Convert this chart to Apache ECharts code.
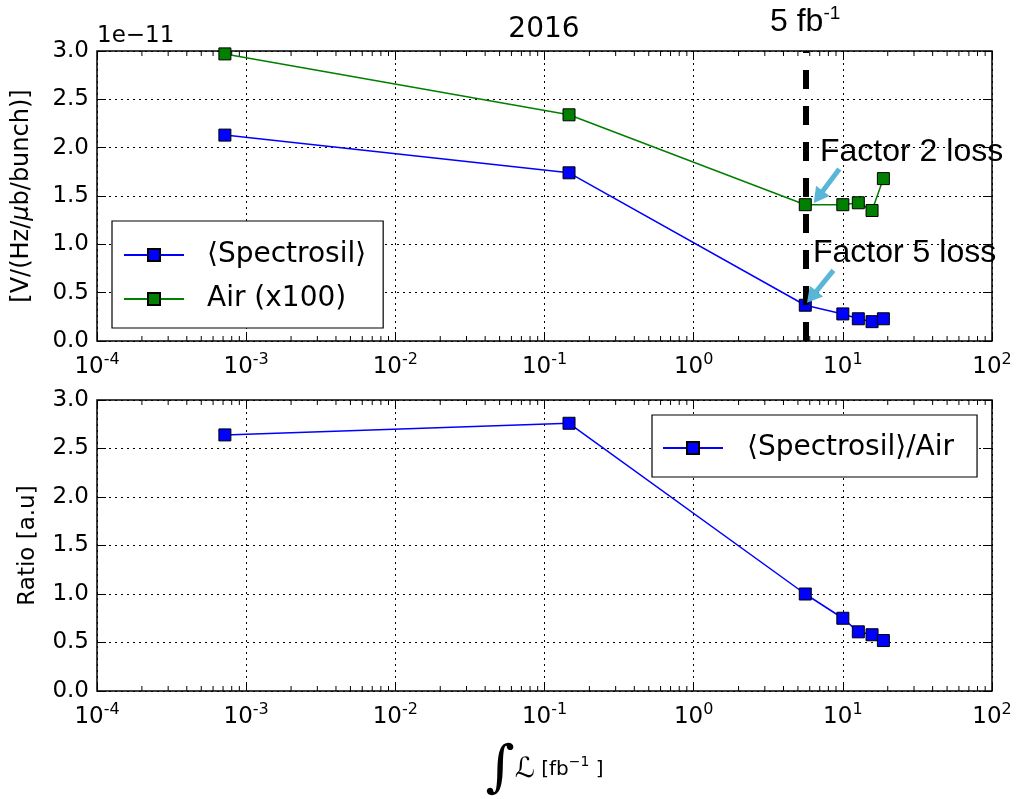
<!DOCTYPE html>
<html><head><meta charset="utf-8">
<script src="https://cdn.jsdelivr.net/npm/echarts@6/dist/echarts.min.js"></script>
<style>html,body{margin:0;padding:0;background:#fff}#c{width:1021px;height:799px}</style>
</head><body><div id="c"></div>
<script>
// ---- data ----
const lumi = [7.2e-4, 0.146, 5.6, 10, 12.7, 15.7, 18.7];          // integrated luminosity [fb^-1]
const spectrosil = [2.13, 1.74, 0.37, 0.28, 0.23, 0.20, 0.23];     // x 1e-11
const air = [2.97, 2.34, 1.41, 1.41, 1.43, 1.35, 1.68];            // x 1e-11 (x100)
const ratio = [2.64, 2.76, 1.00, 0.75, 0.61, 0.58, 0.52];
const decades = [-4, -3, -2, -1, 0, 1];
const minorMultipliers = [2, 3, 4, 5, 6, 7, 8, 9];
const markerLumi = 5.6;                       // "5 fb-1" dashed line
const arrowFactor2 = [[9.47, 1.78], [6.85, 1.49]];
const arrowFactor5 = [[8.64, 0.73], [6.19, 0.455]];
const names = {spec: '⟨Spectrosil⟩', air: 'Air (x100)', ratio: '⟨Spectrosil⟩/Air'};

const minorVals = [];
decades.forEach(d => minorMultipliers.forEach(m => minorVals.push(m * Math.pow(10, d))));

const F = 'DejaVu Sans';
const BLUE = '#0000ff', GREEN = '#007f00';
const TICK = 23;

function xAxisDef(grid, position, main) {
  const a = {
    type: 'log', logBase: 10, min: 1e-4, max: 100, gridIndex: grid, position: position,
    axisLine: {show: false, onZero: false},
    axisTick: {show: true, inside: true, length: 9, lineStyle: {color: '#000', width: 1}},
    axisLabel: {show: false},
    splitLine: {show: false}
  };
  if (main) {
    a.axisLabel = {
      show: true, margin: 11,
      formatter: v => '{b|10}{s|' + Math.round(Math.log10(v)) + '}',
      rich: {
        b: {fontSize: TICK, fontFamily: F, color: '#000', lineHeight: 27, verticalAlign: 'bottom'},
        s: {fontSize: 16, fontFamily: F, color: '#000', lineHeight: 18, verticalAlign: 'top'}
      }
    };
    a.splitLine = {show: true, lineStyle: {color: '#000', width: 1, type: [2, 4]}};
  }
  return a;
}
function yAxisDef(grid, position, main) {
  const a = {
    type: 'value', min: 0, max: 3, interval: 0.5, gridIndex: grid, position: position,
    axisLine: {show: false, onZero: false},
    axisTick: {show: true, inside: true, length: 9, lineStyle: {color: '#000', width: 1}},
    axisLabel: {show: false},
    splitLine: {show: false}
  };
  if (main) {
    a.axisLabel = {show: true, margin: 8, fontSize: TICK, fontFamily: F, color: '#000', formatter: v => v.toFixed(1)};
    a.splitLine = {show: true, lineStyle: {color: '#000', width: 1, type: [2, 4]}};
  }
  return a;
}

const xAxes = [
  xAxisDef(0, 'bottom', true), xAxisDef(0, 'top', false),
  xAxisDef(1, 'bottom', true), xAxisDef(1, 'top', false)
];
xAxes[2].name = '{i|∫}{l|ℒ}{t| [fb}{s|−1}{t| ]}';
xAxes[2].nameLocation = 'middle';
xAxes[2].nameGap = 48;
xAxes[2].nameTextStyle = {
  rich: {
    i: {fontSize: 56, fontFamily: 'DejaVu Serif', fontStyle: 'italic', color: '#000', lineHeight: 62},
    l: {fontSize: 28, fontFamily: F, fontStyle: 'italic', color: '#000', lineHeight: 62},
    t: {fontSize: 20, fontFamily: F, color: '#000', lineHeight: 62},
    s: {fontSize: 14, fontFamily: F, color: '#000', padding: [0, 0, 16, 0]}
  }
};

const yAxes = [yAxisDef(0, 'left', true), yAxisDef(0, 'right', false), yAxisDef(1, 'left', true), yAxisDef(1, 'right', false)];
yAxes[0].name = '[V/(Hz/{i|μ}b/bunch)]';
yAxes[0].nameLocation = 'middle';
yAxes[0].nameGap = 63;
yAxes[0].nameTextStyle = {fontSize: 24, fontFamily: F, color: '#000', rich: {i: {fontSize: 24, fontFamily: F, fontStyle: 'italic', color: '#000'}}};
yAxes[2].name = 'Ratio [a.u]';
yAxes[2].nameLocation = 'middle';
yAxes[2].nameGap = 57;
yAxes[2].nameTextStyle = {fontSize: 23, fontFamily: F, color: '#000'};

const pairs = ys => lumi.map((x, i) => [x, ys[i]]);
const seriesStyle = c => ({
  type: 'line', symbol: 'rect', symbolSize: 12,
  lineStyle: {color: c, width: 1.5},
  itemStyle: {color: c, borderColor: '#000', borderWidth: 1},
  z: 3
});
const arrowStyle = {color: '#5ab6d6', width: 5, type: 'solid'};

// minor log ticks on bottom and top edges, placed through the axes' scales
function minorTickSeries(xi, yi) {
  return {
    type: 'custom', xAxisIndex: xi, yAxisIndex: yi, silent: true, clip: false, z: 2,
    data: minorVals.map(v => [v, 0]),
    renderItem: (params, api) => {
      const b = api.coord([api.value(0), 0]);
      const t = api.coord([api.value(0), 3]);
      const st = {stroke: '#000', lineWidth: 1};
      return {type: 'group', children: [
        {type: 'line', shape: {x1: b[0], y1: b[1], x2: b[0], y2: b[1] - 5}, style: st},
        {type: 'line', shape: {x1: t[0], y1: t[1], x2: t[0], y2: t[1] + 5}, style: st}
      ]};
    }
  };
}

const option = {
  animation: false,
  backgroundColor: '#fff',
  grid: [
    {left: 97, top: 51, width: 895, height: 290, show: true, borderColor: '#000', borderWidth: 1.5, backgroundColor: '#fff'},
    {left: 97, top: 400, width: 895, height: 292, show: true, borderColor: '#000', borderWidth: 1.5, backgroundColor: '#fff'}
  ],
  xAxis: xAxes,
  yAxis: yAxes,
  legend: [
    {
      data: [names.spec, names.air], orient: 'vertical', left: 112, top: 221,
      padding: [19, 17, 14, 11], itemGap: 14, itemWidth: 60, itemHeight: 15,
      backgroundColor: '#fff', borderColor: '#000', borderWidth: 1.2, borderRadius: 0,
      textStyle: {fontSize: 28, fontFamily: F, color: '#000', lineHeight: 30, padding: [0, 0, 0, 18]}
    },
    {
      data: [names.ratio], orient: 'vertical', left: 652, top: 415,
      padding: [18, 23, 14, 10], itemGap: 14, itemWidth: 60, itemHeight: 15,
      backgroundColor: '#fff', borderColor: '#000', borderWidth: 1.2, borderRadius: 0,
      textStyle: {fontSize: 28, fontFamily: F, color: '#000', lineHeight: 30, padding: [0, 0, 0, 19]}
    }
  ],
  series: [
    Object.assign(seriesStyle(BLUE), {
      name: names.spec, xAxisIndex: 0, yAxisIndex: 0, data: pairs(spectrosil),
      markLine: {
        silent: true, animation: false, z: 10, symbol: ['none', 'none'], label: {show: false},
        lineStyle: {color: '#000', width: 6, type: [19, 17]},
        data: [{xAxis: markerLumi}]
      }
    }),
    Object.assign(seriesStyle(GREEN), {
      name: names.air, xAxisIndex: 0, yAxisIndex: 0, data: pairs(air),
      markLine: {
        silent: true, animation: false, z: 10,
        symbol: ['none', 'triangle'], symbolSize: [17, 15],
        label: {show: false}, lineStyle: arrowStyle,
        data: [
          [{coord: arrowFactor2[0]}, {coord: arrowFactor2[1]}],
          [{coord: arrowFactor5[0]}, {coord: arrowFactor5[1]}]
        ]
      }
    }),
    Object.assign(seriesStyle(BLUE), {name: names.ratio, xAxisIndex: 2, yAxisIndex: 2, data: pairs(ratio)}),
    minorTickSeries(0, 0),
    minorTickSeries(2, 2)
  ],
  graphic: [
    {type: 'text', z: 100, style: {text: '2016', x: 544, y: 30, fill: '#000', fontSize: 28, fontFamily: F, align: 'center', verticalAlign: 'middle'}},
    {type: 'text', z: 100, style: {text: '1e−11', x: 97, y: 36, fill: '#000', fontSize: 23, fontFamily: F, align: 'left', verticalAlign: 'middle'}},
    {type: 'text', z: 100, style: {
      text: '{a|5 fb}{s|-1}', x: 770, y: 22, align: 'left', verticalAlign: 'middle',
      rich: {a: {fontSize: 32, fontFamily: 'Liberation Sans', fill: '#000', lineHeight: 36},
             s: {fontSize: 19, fontFamily: 'Liberation Sans', fill: '#000', lineHeight: 27, verticalAlign: 'top'}}
    }},
    {type: 'text', z: 100, style: {text: 'Factor 2 loss', x: 820, y: 152, fill: '#000', fontSize: 32, fontFamily: 'Liberation Sans', align: 'left', verticalAlign: 'middle'}},
    {type: 'text', z: 100, style: {text: 'Factor 5 loss', x: 813, y: 253, fill: '#000', fontSize: 32, fontFamily: 'Liberation Sans', align: 'left', verticalAlign: 'middle'}}
  ]
};
const chart = echarts.init(document.getElementById('c'), null, {renderer: 'canvas'});
chart.setOption(option);
</script>
</body></html>
